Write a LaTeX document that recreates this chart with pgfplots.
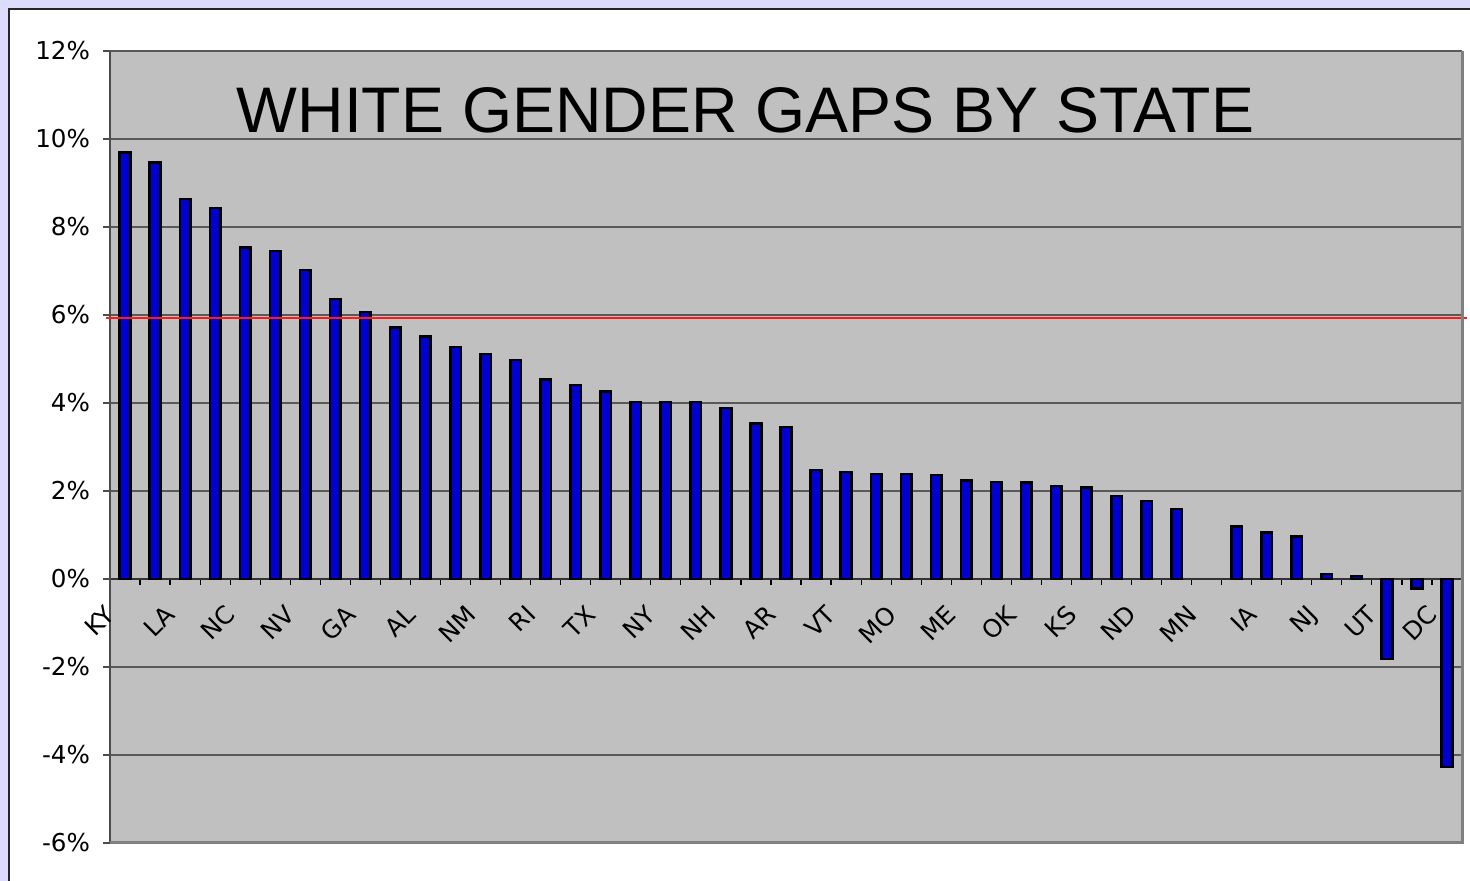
\documentclass[border=0pt]{standalone}
\usepackage{fontspec}
\setmainfont{DejaVu Sans}
\newfontfamily\titlefont{Liberation Sans}
\usepackage{pgfplots}
\pgfplotsset{compat=1.18}
\definecolor{bgl}{RGB}{221,221,251}
\definecolor{plotgray}{RGB}{192,192,192}
\definecolor{barblue}{RGB}{0,0,208}
\begin{document}
\begin{tikzpicture}
\fill[bgl] (0,0) rectangle (735pt,440.5pt);
\fill[white] (4.5pt,0) rectangle (735pt,436pt);
\draw[black!85, line width=1pt] (4.5pt,0) -- (4.5pt,436pt) -- (735pt,436pt);
\begin{axis}[
  at={(55pt,19pt)}, anchor=south west,
  scale only axis, width=676pt, height=396pt,
  xmin=0.5, xmax=45.5, ymin=-6, ymax=12,
  clip=false,
  axis background/.style={fill=plotgray},
  axis x line*=middle, axis y line*=left,
  x axis line style={-, black!80, line width=0.6pt},
  y axis line style={-, black!70, line width=0.8pt},
  hide obscured x ticks=false,
  ytick={-6,-4,...,12},
  yticklabels={-6\%,-4\%,-2\%,0\%,2\%,4\%,6\%,8\%,10\%,12\%},
  ymajorgrids, grid style={black!65, line width=0.7pt},
  xtick={1,3,...,45},
  xticklabels={KY,LA,NC,NV,GA,AL,NM,RI,TX,NY,NH,AR,VT,MO,ME,OK,KS,ND,MN,IA,NJ,UT,DC},
  minor xtick={0.5,1.5,...,45.5},
  tick align=outside,
  major tick length=3.5pt, minor tick length=3pt,
  major x tick style={draw=none},
  minor x tick style={black, line width=0.6pt},
  major y tick style={black!70, line width=0.6pt},
  tick label style={font=\fontsize{12.3}{14}\selectfont},
  yticklabel style={xshift=-3pt},
  xticklabel style={xshift=-10.6pt, yshift=-7.2pt, rotate=45, anchor=north east, inner sep=1pt},
]
\addplot[ybar, bar width=5.3pt, fill=barblue, draw=black, line width=1.3pt] coordinates {
(1,9.69) (2,9.47) (3,8.64) (4,8.43) (5,7.53) (6,7.45) (7,7.02) (8,6.36) (9,6.07) (10,5.72)
(11,5.51) (12,5.27) (13,5.11) (14,4.98) (15,4.54) (16,4.41) (17,4.26) (18,4.02) (19,4.02) (20,4.02)
(21,3.89) (22,3.53) (23,3.45) (24,2.48) (25,2.43) (26,2.39) (27,2.39) (28,2.36) (29,2.24) (30,2.20)
(31,2.19) (32,2.11) (33,2.08) (34,1.89) (35,1.77) (36,1.59)
(38,1.19) (39,1.05) (40,0.96) (41,0.11) (42,0.07) (43,-1.82) (44,-0.21) (45,-4.27)
};
\addplot[red!90!white, line width=1pt, no marks] coordinates {(0.37,5.93) (45.67,5.93)};
\draw[black!50, line width=1.5pt] (rel axis cs:0,0) -- (rel axis cs:1,0) -- (rel axis cs:1,1);
\end{axis}
\node[font=\titlefont\fontsize{32.2}{36}\selectfont, anchor=base] at (372.75pt,374pt) {WHITE GENDER GAPS BY STATE};
\pgfresetboundingbox
\path[use as bounding box] (0,0) rectangle (735pt,440.5pt);
\end{tikzpicture}
\end{document}
